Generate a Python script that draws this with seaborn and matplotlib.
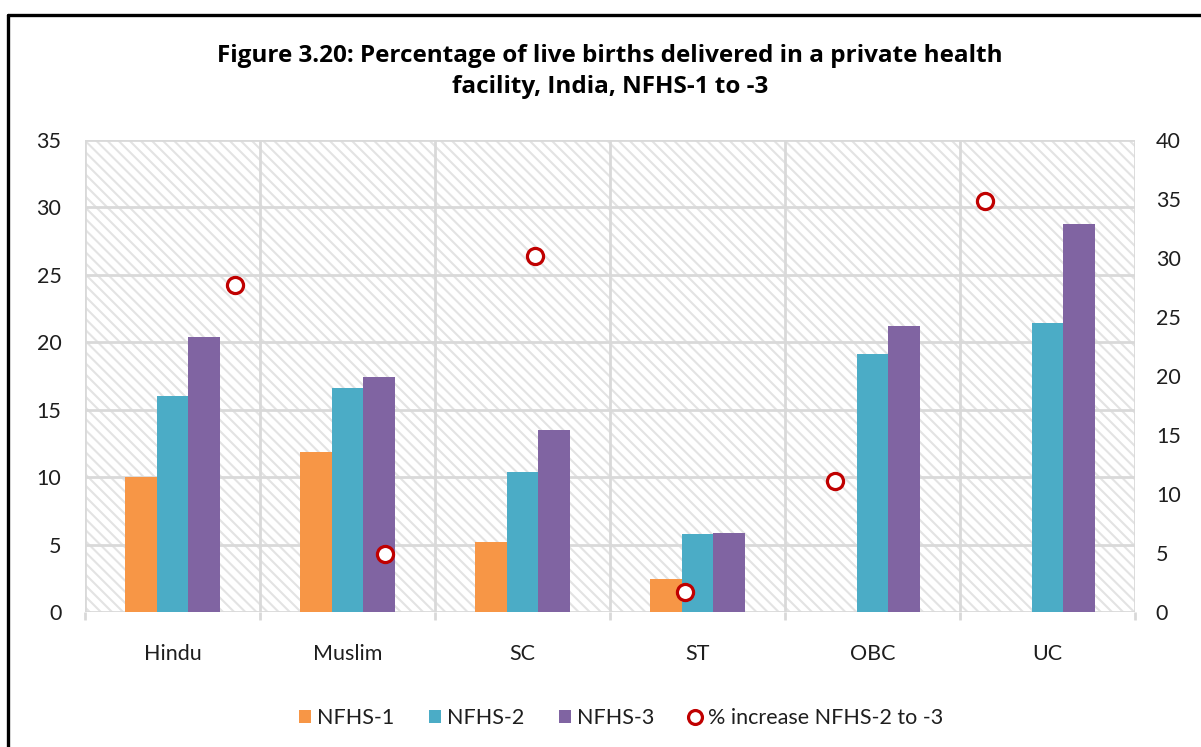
import numpy as np
import pandas as pd
import matplotlib
matplotlib.use("Agg")
import matplotlib.pyplot as plt
from matplotlib.patches import Rectangle, Patch
from matplotlib.lines import Line2D
import seaborn as sns

# ---- data -------------------------------------------------------------
categories = ["Hindu", "Muslim", "SC", "ST", "OBC", "UC"]
nfhs1 = [10.0, 11.9, 5.2, 2.5, np.nan, np.nan]
nfhs2 = [16.0, 16.6, 10.4, 5.8, 19.1, 21.4]
nfhs3 = [20.4, 17.4, 13.5, 5.9, 21.2, 28.8]
pct_increase = [27.7, 4.9, 30.2, 1.7, 11.1, 34.8]

series_names = ["NFHS-1", "NFHS-2", "NFHS-3"]
marker_label = "% increase NFHS-2 to -3"
left_ticks = [0, 5, 10, 15, 20, 25, 30, 35]
right_ticks = [0, 5, 10, 15, 20, 25, 30, 35, 40]
title = ("Figure 3.20: Percentage of live births delivered in a private health\n"
         "facility, India, NFHS-1 to -3")

# ---- styling ----------------------------------------------------------
colors = ["#F79646", "#4BACC6", "#8064A2"]
marker_edge = "#C00000"
grid_col = "#d9d9d9"
text_col = "#1e1e1e"
label_size = 15.5

sns.set_theme(style="white")
plt.rcParams["font.family"] = ["Lato", "DejaVu Sans"]
plt.rcParams["hatch.linewidth"] = 1.5

W, H = 1201, 747
fig = plt.figure(figsize=(W / 100, H / 100), dpi=100)
fig.patch.set_facecolor("white")

# frame around the figure (top and left edges visible)
fig.add_artist(Line2D([8 / W, 1.0], [1 - 15 / H, 1 - 15 / H],
                      transform=fig.transFigure, color="black", lw=2.4))
fig.add_artist(Line2D([8 / W, 8 / W], [0.0, 1 - 15 / H],
                      transform=fig.transFigure, color="black", lw=2.4))

pos = [85 / W, 1 - 612.3 / H, (1135 - 85) / W, (612.3 - 139.8) / H]
ax = fig.add_axes(pos)

# striped plot-area background
ax.add_patch(Rectangle((0, 0), 1, 1, transform=ax.transAxes,
                       facecolor="white", edgecolor="#e3e3e3", linewidth=0,
                       hatch="\\\\\\", zorder=0.1))

df = pd.DataFrame({
    "group": categories * 3,
    "series": sum([[s] * len(categories) for s in series_names], []),
    "value": nfhs1 + nfhs2 + nfhs3,
})

sns.barplot(data=df, x="group", y="value", hue="series",
            order=categories, hue_order=series_names, palette=colors,
            width=0.546, errorbar=None, saturation=1, linewidth=0,
            legend=False, ax=ax, zorder=2)

ax.set_xlim(-0.5, len(categories) - 0.5)
ax.set_ylim(0, 35)
ax.set_yticks(left_ticks)
ax.set_xlabel("")
ax.set_ylabel("")
ax.set_axisbelow(True)
ax.yaxis.grid(True, color=grid_col, lw=2)
ax.set_xticks(np.arange(-0.5, len(categories)), minor=True)
ax.xaxis.grid(True, which="minor", color=grid_col, lw=2)
ax.xaxis.grid(False, which="major")
for s in ax.spines.values():
    s.set_visible(False)
ax.tick_params(axis="x", which="major", length=0, pad=23,
               labelsize=label_size, labelcolor=text_col)
ax.tick_params(axis="x", which="minor", length=6, width=2,
               color=grid_col, direction="out", bottom=True)
ax.tick_params(axis="y", length=0, pad=17, labelsize=label_size,
               labelcolor=text_col)

# secondary scale for the percentage increase markers
ax2 = fig.add_axes(pos, facecolor="none")
ax2.set_xlim(0, len(categories) + 1)
ax2.set_ylim(0, 40)
sns.scatterplot(x=np.arange(1, len(categories) + 1), y=pct_increase,
                ax=ax2, marker="o", s=135, facecolor="white",
                edgecolor=marker_edge, linewidth=2.3, zorder=5, legend=False)
ax2.set_xticks([])
ax2.set_yticks(right_ticks)
ax2.yaxis.tick_right()
ax2.tick_params(axis="y", length=0, pad=15, labelsize=label_size,
                labelcolor=text_col, right=True, left=False,
                labelright=True, labelleft=False)
ax2.set_xlabel("")
ax2.set_ylabel("")
ax2.grid(False)
for s in ax2.spines.values():
    s.set_visible(False)

fig.text(610 / W, 1 - 71.5 / H, title, ha="center", va="center",
         fontsize=17.5, fontweight="bold", color="black", linespacing=1.4,
         family=["Open Sans", "DejaVu Sans"])

handles = [Patch(facecolor=c, edgecolor="none") for c in colors]
handles.append(Line2D([], [], linestyle="none", marker="o", markersize=10,
                      markerfacecolor="white", markeredgecolor=marker_edge,
                      markeredgewidth=2.3))
fig.legend(handles, series_names + [marker_label], loc="center",
           bbox_to_anchor=(621 / W, 1 - 718 / H), ncol=4, frameon=False,
           handlelength=0.55, handleheight=0.55, handletextpad=0.3,
           columnspacing=1.6, fontsize=label_size, labelcolor=text_col)

fig.savefig("out.png", dpi=100, facecolor="white")
